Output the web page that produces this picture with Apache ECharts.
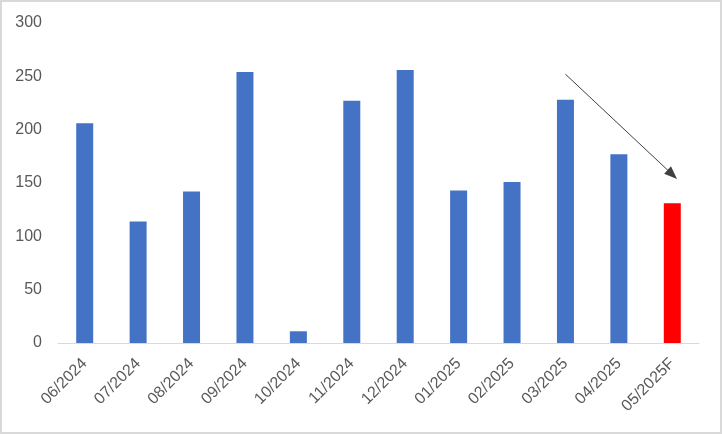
<!DOCTYPE html>
<html>
<head>
<meta charset="utf-8">
<script src="https://cdn.jsdelivr.net/npm/echarts@6/dist/echarts.min.js"></script>
<style>
html,body{margin:0;padding:0;background:#fff;}
#c{width:722px;height:434px;}
</style>
</head>
<body>
<div id="c"></div>
<script>
var categories = ['06/2024','07/2024','08/2024','09/2024','10/2024','11/2024','12/2024','01/2025','02/2025','03/2025','04/2025','05/2025F'];
var values = [206, 114, 142, 254, 11, 227, 256, 143, 151, 228, 177, 131];
var forecastFlags = [false,false,false,false,false,false,false,false,false,false,false,true];
var yTicks = [0, 50, 100, 150, 200, 250, 300];
var trendStart = ['03/2025', 252];
var trendEnd = ['05/2025F', 158];

var chart = echarts.init(document.getElementById('c'));
var font = 'Liberation Sans, Arial, sans-serif';
chart.setOption({
  animation: false,
  backgroundColor: '#fff',
  graphic: [{
    type: 'rect',
    shape: {x: 1, y: 1, width: 720, height: 432},
    style: {fill: 'none', stroke: '#d9d9d9', lineWidth: 2},
    silent: true
  }],
  grid: {left: 58, right: 23, top: 23, bottom: 91, containLabel: false},
  xAxis: {
    type: 'category',
    data: categories,
    axisLine: {show: true, lineStyle: {color: '#d9d9d9', width: 1}},
    axisTick: {show: false},
    axisLabel: {
      rotate: 45, color: '#595959', fontSize: 16, fontFamily: font,
      interval: 0, margin: 18
    }
  },
  yAxis: {
    type: 'value',
    min: yTicks[0], max: yTicks[yTicks.length - 1], interval: 50,
    splitLine: {show: false},
    axisLine: {show: false},
    axisTick: {show: false},
    axisLabel: {color: '#595959', fontSize: 16, fontFamily: font, margin: 16}
  },
  series: [{
    type: 'bar',
    barWidth: 17,
    data: values.map(function (v, i) {
      return {value: v, itemStyle: {color: forecastFlags[i] ? '#ff0000' : '#4472c4'}};
    }),
    markLine: {
      silent: true,
      symbol: ['none', 'triangle'],
      symbolSize: [10, 13],
      label: {show: false},
      lineStyle: {color: '#404040', width: 1, type: 'solid'},
      data: [[{coord: trendStart}, {coord: trendEnd}]]
    }
  }]
});
</script>
</body>
</html>
